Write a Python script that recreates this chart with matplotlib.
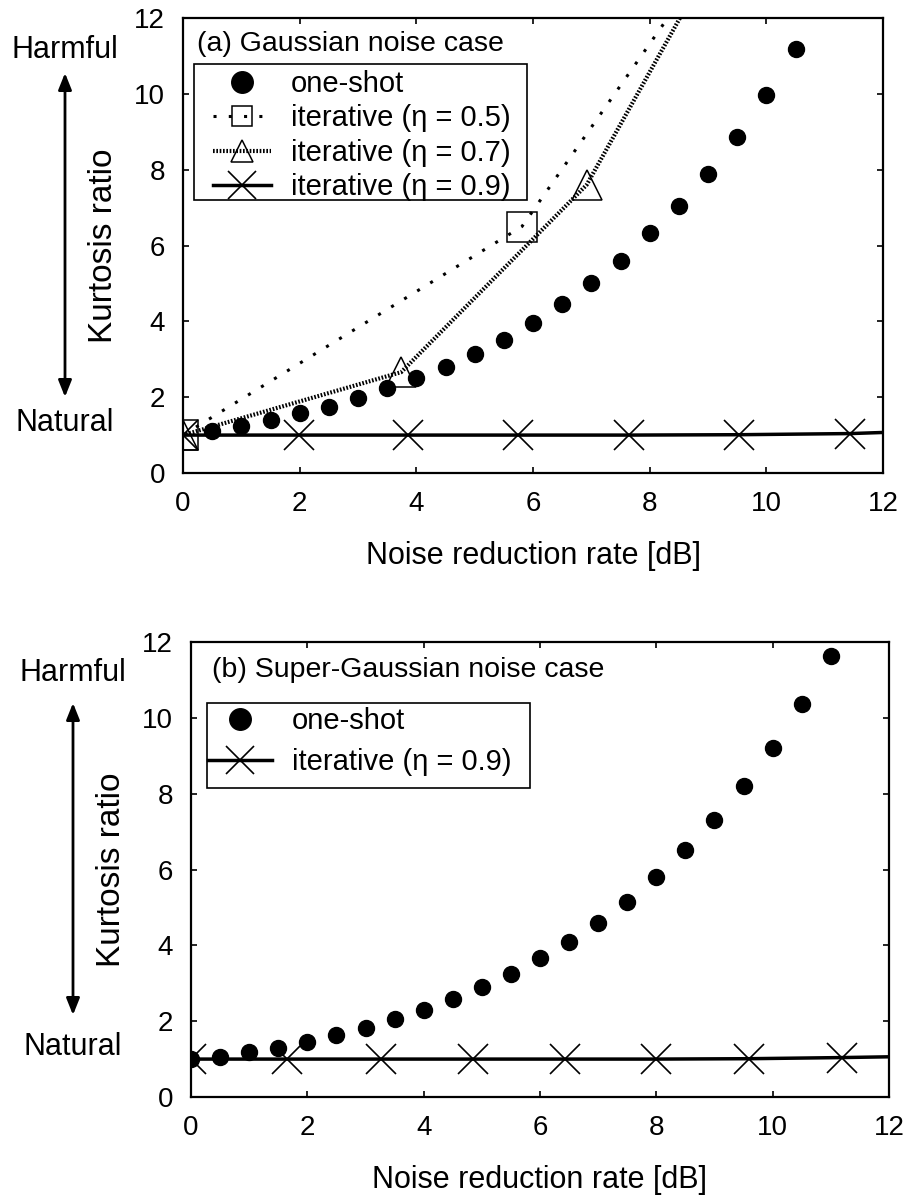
import matplotlib
matplotlib.use('Agg')
import matplotlib.pyplot as plt
from matplotlib.patches import Rectangle

plt.rcParams['font.family'] = ['Liberation Sans', 'DejaVu Sans']

# (a) Gaussian noise case
oneshot_a_x = [0.5, 1.0, 1.5, 2.0, 2.5, 3.0, 3.5, 4.0, 4.5, 5.0, 5.5,
               6.0, 6.5, 7.0, 7.5, 8.0, 8.5, 9.0, 9.5, 10.0, 10.5]
oneshot_a_y = [1.1, 1.24, 1.39, 1.57, 1.75, 1.97, 2.23, 2.5, 2.8, 3.13, 3.5,
               3.95, 4.47, 5.0, 5.6, 6.32, 7.03, 7.89, 8.87, 9.97, 11.18]
eta05_x = [0, 5.81, 8.9]
eta05_y = [1.0, 6.5, 13.3]
eta07_x = [0, 3.74, 6.92, 9.5]
eta07_y = [1.0, 2.66, 7.6, 14.7]
eta09_a_x = [0, 1.98, 3.86, 5.74, 7.64, 9.54, 11.44, 12.6]
eta09_a_y = [1.0, 1.0, 1.0, 1.0, 1.0, 1.01, 1.04, 1.1]

# (b) Super-Gaussian noise case
oneshot_b_x = [0, 0.5, 1.0, 1.5, 2.0, 2.5, 3.0, 3.5, 4.0, 4.5, 5.0, 5.5,
               6.0, 6.5, 7.0, 7.5, 8.0, 8.5, 9.0, 9.5, 10.0, 10.5, 11.0]
oneshot_b_y = [1.0, 1.06, 1.19, 1.3, 1.45, 1.64, 1.82, 2.06, 2.3, 2.58, 2.9, 3.24,
               3.67, 4.09, 4.59, 5.15, 5.8, 6.52, 7.31, 8.2, 9.21, 10.37, 11.64]
eta09_b_x = [0, 1.65, 3.26, 4.85, 6.43, 7.99, 9.59, 11.19, 12.8]
eta09_b_y = [1.0, 1.0, 1.0, 1.0, 1.0, 1.0, 1.01, 1.04, 1.08]

ticks = [0, 2, 4, 6, 8, 10, 12]
FS_TICK = 20
FS_LAB = 22
FS_YLAB = 24
FS_LEG = 21
FS_TITLE = 20.5

W, H = 912, 1199
fig = plt.figure(figsize=(W / 100, H / 100), dpi=100)
# axes boxes in image pixels: left, top, right, bottom
box_a = (183, 18, 883, 473)
box_b = (191, 642, 889, 1097)


def make_axes(box):
    l, t, r, b = box
    return fig.add_axes([l / W, 1 - b / H, (r - l) / W, (b - t) / H])


def to_axes(box, x, y):
    l, t, r, b = box
    return (x - l) / (r - l), (b - y) / (b - t)


def style_axes(ax):
    ax.set_xlim(0, 12)
    ax.set_ylim(0, 12)
    ax.set_xticks(ticks)
    ax.set_yticks(ticks)
    ax.tick_params(direction='in', top=True, right=True, length=4.5, width=1.2,
                   labelsize=FS_TICK, pad=13)
    for s in ax.spines.values():
        s.set_linewidth(1.6)
    ax.set_xlabel('Noise reduction rate [dB]', fontsize=FS_LAB, labelpad=17)
    ax.set_ylabel('Kurtosis ratio', fontsize=FS_YLAB, labelpad=11)


def add_legend(ax, box, handles, labels, anchor, frame, hlen, spacing, msizes):
    leg = ax.legend(handles, labels, loc='upper left',
                    bbox_to_anchor=to_axes(box, *anchor), borderaxespad=0,
                    borderpad=0, fontsize=FS_LEG, frameon=False,
                    labelspacing=spacing, handlelength=hlen, handletextpad=0.68,
                    numpoints=1)
    for hd, ms in zip(leg.legend_handles, msizes):
        hd.set_markersize(ms)
    x0, y0 = to_axes(box, frame[0], frame[3])
    x1, y1 = to_axes(box, frame[2], frame[1])
    ax.add_patch(Rectangle((x0, y0), x1 - x0, y1 - y0, transform=ax.transAxes,
                           fill=False, edgecolor='black', lw=1.2, zorder=5))


ax_a = make_axes(box_a)
ax_b = make_axes(box_b)

# panel (a)
p1, = ax_a.plot(oneshot_a_x, oneshot_a_y, 'o', color='black', ms=11.5)
p2, = ax_a.plot(eta05_x, eta05_y, color='black', lw=2.2, dashes=(1, 4),
                marker='s', ms=21, mfc='none', mec='black', mew=1.1)
p3, = ax_a.plot(eta07_x, eta07_y, color='black', lw=3, dashes=(0.4, 0.4),
                marker='^', ms=21, mfc='none', mec='black', mew=1.1)
p4, = ax_a.plot(eta09_a_x, eta09_a_y, color='black', lw=2.5,
                marker='x', ms=21, mew=1.2)
style_axes(ax_a)
ax_a.text(*to_axes(box_a, 197, 44), '(a) Gaussian noise case', transform=ax_a.transAxes,
          fontsize=FS_TITLE, va='center', ha='left')
add_legend(ax_a, box_a, [p1, p2, p3, p4],
           ['one-shot', 'iterative (η = 0.5)', 'iterative (η = 0.7)', 'iterative (η = 0.9)'],
           anchor=(213, 70), frame=(194, 64, 527, 200), hlen=2.0, spacing=0.22,
           msizes=[15.5, 15, 15.5, 20])

# panel (b)
q2, = ax_b.plot(eta09_b_x, eta09_b_y, color='black', lw=2.5,
                marker='x', ms=21, mew=1.2)
q1, = ax_b.plot(oneshot_b_x, oneshot_b_y, 'o', color='black', ms=11.5)
style_axes(ax_b)
ax_b.text(*to_axes(box_b, 212, 670), '(b) Super-Gaussian noise case',
          transform=ax_b.transAxes, fontsize=FS_TITLE, va='center', ha='left')
add_legend(ax_b, box_b, [q1, q2], ['one-shot', 'iterative (η = 0.9)'],
           anchor=(208, 707), frame=(207, 703, 530, 788), hlen=2.2, spacing=0.44,
           msizes=[15.5, 20])

# Harmful / Natural annotations (image pixel coords, y from top)
for (xa, yh, yt, yb, yn) in [(65, 50, 73, 397, 423), (73, 673, 703, 1015, 1047)]:
    fig.text(xa / W, 1 - yh / H, 'Harmful', fontsize=FS_LAB, ha='center', va='center')
    fig.text(xa / W, 1 - yn / H, 'Natural', fontsize=FS_LAB, ha='center', va='center')
    ax_a.annotate('', xy=(xa, H - yt), xytext=(xa, H - yb), xycoords='figure pixels',
                  textcoords='figure pixels',
                  arrowprops=dict(arrowstyle='<|-|>,head_length=0.5,head_width=0.2',
                                  lw=2, color='black', mutation_scale=20,
                                  shrinkA=0, shrinkB=0))

fig.savefig('out.png', dpi=100)
